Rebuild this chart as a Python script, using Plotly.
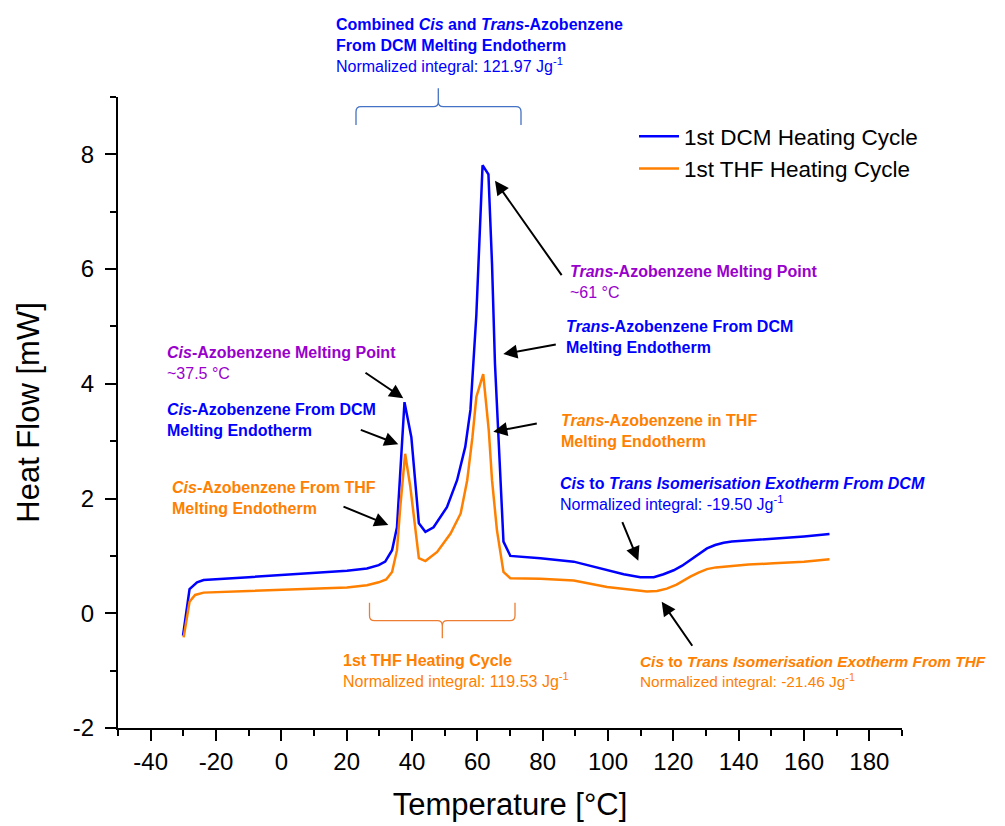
import plotly.graph_objects as go

# ---------------- data ----------------
dcm_temp = [-30.1, -28.1, -25.8, -23.8, -10, 0, 10, 20.1, 26.2, 29.8, 31.8, 33.9, 35.4,
            36.9, 37.7, 39.8, 42.1, 44.1, 46.6, 50.7, 53.8, 56.3, 57.9, 59.7, 60.4,
            61.6, 63.4, 64.5, 65.4, 67.0, 68.0, 70.1, 79.3, 89.5, 99.7, 104.8, 109.9,
            114.0, 117.0, 120.1, 122.7, 125.2, 127.7, 130.3, 132.8, 135.4, 137.9, 140.5,
            150.7, 160.0, 167.8]
dcm_heat = [-0.39, 0.42, 0.54, 0.58, 0.63, 0.67, 0.70, 0.74, 0.78, 0.84, 0.90, 1.10, 1.50,
            2.96, 3.68, 3.07, 1.57, 1.42, 1.50, 1.85, 2.32, 2.90, 3.55, 5.20, 6.09,
            7.81, 7.65, 6.09, 4.35, 2.32, 1.25, 1.00, 0.96, 0.90, 0.75, 0.68, 0.63,
            0.63, 0.68, 0.75, 0.83, 0.93, 1.04, 1.13, 1.19, 1.23, 1.25, 1.26,
            1.30, 1.34, 1.38]

thf_temp = [-29.9, -28.1, -26.4, -23.8, -10, 0, 10, 20.1, 26.2, 29.8, 32.1, 33.9, 35.4,
            36.4, 37.9, 39.5, 42.1, 44.1, 47.7, 51.8, 54.9, 56.9, 58.5, 59.7, 61.8,
            63.5, 64.5, 66.0, 68.0, 70.1, 79.3, 89.5, 99.7, 105.0, 111.9, 115.0, 118.0,
            121.0, 123.0, 125.2, 127.7, 130.3, 133.0, 136.4, 143.0, 150.7, 160.0, 167.8]
thf_heat = [-0.42, 0.20, 0.32, 0.36, 0.39, 0.41, 0.43, 0.45, 0.49, 0.54, 0.59, 0.72, 1.10,
            1.85, 2.78, 2.20, 0.96, 0.91, 1.07, 1.39, 1.74, 2.32, 3.07, 3.77, 4.17,
            3.19, 2.32, 1.45, 0.72, 0.61, 0.60, 0.57, 0.46, 0.42, 0.38, 0.39, 0.43,
            0.50, 0.57, 0.64, 0.71, 0.77, 0.80, 0.82, 0.85, 0.87, 0.90, 0.94]

series_names = ["1st DCM Heating Cycle", "1st THF Heating Cycle"]
x_ticks = list(range(-40, 181, 20))
y_ticks = list(range(-2, 9, 2))

BLUE = "#0000FF"
ORANGE_TXT = "#FF8000"
PURPLE = "#9900CC"
FONT = "Liberation Sans, Arial, sans-serif"

# page body has an 8 px margin, so the figure is slightly smaller
OFF = 8
W, H = 1005 - OFF, 826 - OFF
# plot area in screen pixels (reference)
X0, X1, Y0, Y1 = 118, 902, 97, 728
ML, MT = X0 - OFF, Y0 - OFF
MR, MB = W - (X1 - OFF), H - (Y1 - OFF)
PW, PH = X1 - X0, Y1 - Y0


def px(xp):
    return (xp - X0) / PW


def py(yp):
    return (Y1 - yp) / PH


fig = go.Figure()
fig.add_trace(go.Scatter(x=dcm_temp, y=dcm_heat, mode="lines", name=series_names[0],
                         line=dict(color=BLUE, width=2.5)))
fig.add_trace(go.Scatter(x=thf_temp, y=thf_heat, mode="lines", name=series_names[1],
                         line=dict(color=ORANGE_TXT, width=2.5)))


# ---------------- braces ----------------
def brace(left, right, center, y_end, y_h, y_tip, r=5):
    d = 1 if y_end > y_h else -1

    def P(a, b):
        return f"{px(a):.5f},{py(b):.5f}"
    return (f"M {P(left, y_end)} L {P(left, y_h + d*r)} Q {P(left, y_h)} {P(left + r, y_h)} "
            f"L {P(center - r, y_h)} Q {P(center, y_h)} {P(center, y_h - d*r)} "
            f"L {P(center, y_tip)} L {P(center, y_h - d*r)} "
            f"Q {P(center, y_h)} {P(center + r, y_h)} L {P(right - r, y_h)} "
            f"Q {P(right, y_h)} {P(right, y_h + d*r)} L {P(right, y_end)}")


shapes = [
    dict(type="path", xref="paper", yref="paper",
         path=brace(356, 521, 438.3, 125, 106.7, 88.3),
         line=dict(color="#4472C4", width=1.3)),
    dict(type="path", xref="paper", yref="paper",
         path=brace(369.5, 515, 442.3, 602.7, 620.7, 638.3),
         line=dict(color="#ED7D31", width=1.3)),
]

# ---------------- text annotations ----------------
FS = 16
annotations = []


def text(xp, yc, txt, color, size=FS):
    annotations.append(dict(xref="paper", yref="paper", x=px(xp), y=py(yc - 11.5),
                            xanchor="left", yanchor="top", align="left",
                            showarrow=False, text=txt,
                            font=dict(family=FONT, size=size, color=color)))


text(334, 26, "<b>Combined <i>Cis</i> and <i>Trans</i>-Azobenzene</b><br>"
              "<b>From DCM Melting Endotherm</b><br>"
              "Normalized integral: 121.97 Jg<sup>-1</sup>", BLUE)
text(568, 272.7, "<b><i>Trans</i>-Azobenzene Melting Point</b><br>~61 °C", PURPLE)
text(564, 327, "<b><i>Trans</i>-Azobenzene From DCM</b><br><b>Melting Endotherm</b>", BLUE)
text(558.5, 421.7, "<b><i>Trans</i>-Azobenzene in THF</b><br><b>Melting Endotherm</b>", ORANGE_TXT)
text(165, 353, "<b><i>Cis</i>-Azobenzene Melting Point</b><br>~37.5 °C", PURPLE)
text(165, 410, "<b><i>Cis</i>-Azobenzene From DCM</b><br><b>Melting Endotherm</b>", BLUE)
text(170, 488, "<b><i>Cis</i>-Azobenzene From THF</b><br><b>Melting Endotherm</b>", ORANGE_TXT)
text(558, 484, "<b><i>Cis</i> to <i>Trans Isomerisation Exotherm From DCM</i></b><br>"
               "Normalized integral: -19.50 Jg<sup>-1</sup>", BLUE)
text(341, 661, "<b>1st THF Heating Cycle</b><br>"
               "Normalized integral: 119.53 Jg<sup>-1</sup>", ORANGE_TXT)
text(638, 662.7, "<b><i>Cis</i> to <i>Trans Isomerisation Exotherm From THF</i></b><br>"
                 "Normalized integral: -21.46 Jg<sup>-1</sup>", ORANGE_TXT, size=15.4)

# ---------------- arrows (head, tail in screen pixels) ----------------
arrows = [
    ((495, 180.7), (562.7, 276.7)),
    ((503.3, 354), (557.3, 344.3)),
    ((493.3, 431.7), (538.3, 423.3)),
    ((403.3, 398.3), (364, 371.7)),
    ((398.3, 444.3), (359.3, 429.3)),
    ((388.3, 525), (342, 506)),
    ((638.3, 560.7), (621.7, 520.7)),
    ((661.7, 601.7), (693.3, 647.3)),
]
for (hx, hy), (tx, ty) in arrows:
    annotations.append(dict(xref="paper", yref="paper", x=px(hx), y=py(hy),
                            ax=tx - hx, ay=ty - hy, axref="pixel", ayref="pixel",
                            text="", showarrow=True, arrowhead=2, arrowsize=1.4,
                            arrowwidth=2, arrowcolor="black", standoff=0))

axis_common = dict(showline=True, linecolor="black", linewidth=2, ticks="outside",
                   ticklen=11, tickwidth=2, tickcolor="black", showgrid=False,
                   zeroline=False, mirror=False,
                   tickfont=dict(family=FONT, size=24, color="black"))

fig.update_layout(
    width=W, height=H,
    margin=dict(l=ML, r=MR, t=MT, b=MB, autoexpand=False),
    paper_bgcolor="white", plot_bgcolor="white",
    font=dict(family=FONT, color="black"),
    shapes=shapes, annotations=annotations,
    showlegend=True,
    legend=dict(x=px(634), y=py(115), xanchor="left", yanchor="top",
                bgcolor="rgba(0,0,0,0)", font=dict(family=FONT, size=22.5, color="black"),
                tracegroupgap=0, itemwidth=40),
    xaxis=dict(range=[-50, 190], tickvals=x_ticks, ticktext=[str(v) for v in x_ticks],
               minor=dict(dtick=10, tick0=0, ticklen=6, tickwidth=2, tickcolor="black",
                          ticks="outside"),
               title=dict(text="Temperature [°C]", font=dict(family=FONT, size=31, color="black"),
                          standoff=20),
               **axis_common),
    yaxis=dict(range=[-2, 9], tickvals=y_ticks, ticktext=[str(v) for v in y_ticks],
               minor=dict(dtick=1, tick0=0, ticklen=6, tickwidth=2, tickcolor="black",
                          ticks="outside"),
               title=dict(text="Heat Flow [mW]", font=dict(family=FONT, size=31, color="black"),
                          standoff=24),
               ticklabelstandoff=6,
               **axis_common),
)

fig.write_html("out.html")
